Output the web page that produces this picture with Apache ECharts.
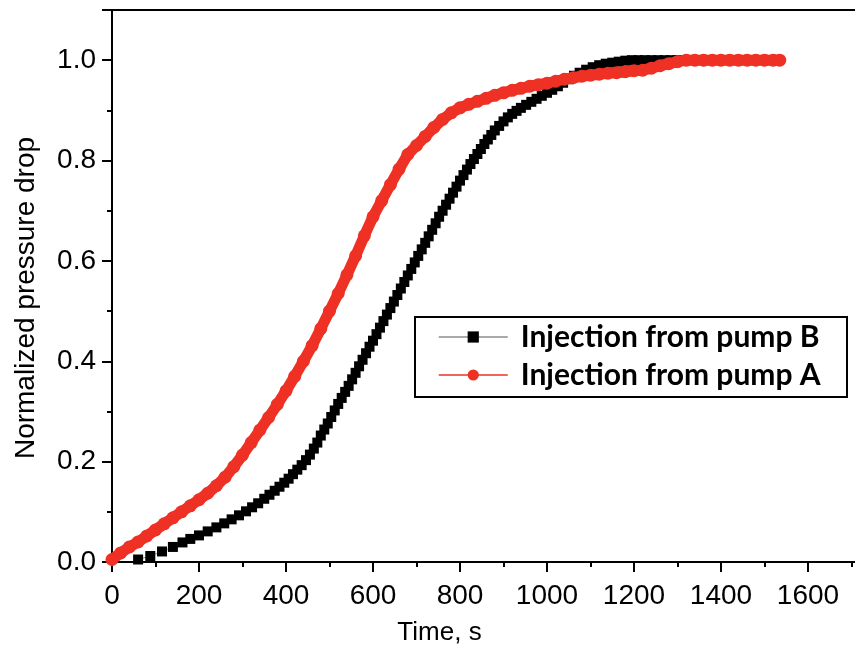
<!DOCTYPE html>
<html><head><meta charset="utf-8">
<script src="https://cdn.jsdelivr.net/npm/echarts@6/dist/echarts.min.js"></script>
<style>html,body{margin:0;padding:0;background:#fff}#c{width:855px;height:645px}</style>
</head><body><div id="c"></div>
<script>
// Injection from pump A (red circles)
const timeA = [0,20,40,60,80,100,120,140,160,180,200,220,240,260,280,300,320,340,360,380,400,420,440,460,480,500,520,540,560,580,600,620,640,660,680,700,720,740,760,780,800,820,840,860,880,900,920,940,960,980,1000,1020,1040,1060,1080,1100,1120,1140,1160,1180,1200,1220,1240,1260,1280,1300,1320,1340,1360,1380,1400,1420,1440,1460,1480,1500,1520,1535];
const dropA = [0.005,0.018,0.03,0.04,0.052,0.064,0.076,0.088,0.1,0.112,0.124,0.137,0.152,0.169,0.19,0.213,0.238,0.263,0.288,0.314,0.341,0.37,0.4,0.431,0.465,0.5,0.535,0.572,0.61,0.65,0.688,0.72,0.752,0.783,0.812,0.83,0.848,0.866,0.882,0.895,0.905,0.912,0.918,0.924,0.93,0.935,0.94,0.944,0.948,0.951,0.954,0.958,0.962,0.965,0.968,0.97,0.972,0.974,0.975,0.977,0.979,0.98,0.984,0.989,0.993,0.997,1.0,1.0,1.0,1.0,1.0,1.0,1.0,1.0,1.0,1.0,1.0,1.0];
// Injection from pump B (black squares)
const timeB = [60,88,115,140,162,180,200,220,240,258,275,292,308,322,336,350,362,374,385,396,406,416,426,436,446,455,464,472,480,488,496,504,512,520,528,536,544,552,560,568,576,584,592,600,608,616,624,632,640,648,656,664,672,680,688,696,704,712,720,728,736,744,752,760,768,776,784,792,800,808,816,824,832,840,848,856,864,872,880,890,900,910,920,930,940,952,964,976,988,1000,1012,1025,1037,1050,1062,1075,1090,1105,1120,1135,1150,1165,1180,1195,1210,1225,1240,1255,1270,1285,1300];
const dropB = [0.005,0.012,0.021,0.03,0.039,0.046,0.053,0.061,0.069,0.077,0.085,0.093,0.101,0.109,0.117,0.126,0.134,0.142,0.15,0.158,0.166,0.175,0.184,0.193,0.203,0.214,0.226,0.238,0.252,0.264,0.276,0.289,0.302,0.315,0.327,0.339,0.351,0.364,0.377,0.39,0.403,0.416,0.429,0.441,0.454,0.467,0.48,0.493,0.506,0.519,0.532,0.545,0.558,0.571,0.584,0.597,0.61,0.623,0.636,0.649,0.662,0.675,0.688,0.7,0.712,0.724,0.736,0.748,0.76,0.771,0.782,0.793,0.803,0.813,0.823,0.833,0.842,0.851,0.86,0.869,0.878,0.886,0.893,0.899,0.905,0.911,0.917,0.923,0.929,0.935,0.941,0.948,0.955,0.962,0.969,0.975,0.981,0.986,0.99,0.993,0.995,0.997,0.999,1.0,1.0,1.0,1.0,1.0,1.0,1.0,1.0];
const seriesNames = ['Injection from pump B', 'Injection from pump A'];
const xName = 'Time, s';
const yName = 'Normalized pressure drop';

const F = '"Liberation Sans", Arial, sans-serif';
const chart = echarts.init(document.getElementById('c'), null, {renderer: 'canvas'});
const axisLine = {show: true, onZero: false, lineStyle: {color: '#000', width: 2}};
chart.setOption({
  animation: false,
  grid: {left: 112, top: 10, width: 783, height: 552, containLabel: false, outerBoundsMode: 'none'},
  xAxis: [{
    type: 'value', min: 0, max: 1800, interval: 200, position: 'bottom',
    name: xName, nameLocation: 'middle', nameGap: 58,
    nameTextStyle: {fontFamily: F, fontSize: 26, color: '#000', padding: [0, 128, 0, 0]},
    axisLine: axisLine,
    axisTick: {show: true, inside: false, length: 10, lineStyle: {color: '#000', width: 2}},
    minorTick: {show: true, splitNumber: 2, length: 5, lineStyle: {color: '#000', width: 2}},
    axisLabel: {fontFamily: F, fontSize: 28, color: '#000', margin: 20, formatter: v => String(v)},
    splitLine: {show: false}, minorSplitLine: {show: false}
  }, {
    type: 'value', min: 0, max: 1800, position: 'top',
    axisLine: axisLine, axisTick: {show: false}, axisLabel: {show: false}, splitLine: {show: false}
  }],
  yAxis: {
    type: 'value', min: 0, max: 1.1, interval: 0.2,
    name: yName, nameLocation: 'middle', nameRotate: 90, nameGap: 72,
    nameTextStyle: {fontFamily: F, fontSize: 28, color: '#000', padding: [0, 24, 0, 0]},
    axisLine: axisLine,
    axisTick: {show: true, inside: false, length: 10, lineStyle: {color: '#000', width: 2}},
    minorTick: {show: true, splitNumber: 2, length: 5, lineStyle: {color: '#000', width: 2}},
    axisLabel: {fontFamily: F, fontSize: 28, color: '#000', margin: 16, showMaxLabel: false,
      formatter: v => v.toFixed(1)},
    splitLine: {show: false}
  },
  graphic: [{type: 'rect', z: 3, shape: {x: 415, y: 317, width: 432, height: 80},
    style: {fill: '#fff', stroke: '#000', lineWidth: 2}}],
  legend: {
    z: 5, left: 438, top: 321, orient: 'vertical', itemWidth: 69, itemHeight: 14, itemGap: 6, padding: 0,
    textStyle: {fontFamily: 'Lato', fontWeight: 'bold', fontSize: 30, color: '#000', lineHeight: 32, padding: [0, 0, 0, 8]},
    lineStyle: {width: 1.5},
    data: seriesNames
  },
  series: [{
    type: 'line', name: seriesNames[0],
    data: timeB.map((t, i) => [t, dropB[i]]),
    symbol: 'rect', symbolSize: 10, showAllSymbol: true,
    itemStyle: {color: '#000'}, lineStyle: {color: '#8c8c8c', width: 1},
    emphasis: {disabled: true}, z: 2
  }, {
    type: 'line', name: seriesNames[1],
    data: timeA.map((t, i) => [t, dropA[i]]),
    symbol: 'circle', symbolSize: 13, showAllSymbol: true,
    itemStyle: {color: '#ee3124'}, lineStyle: {color: '#ee3124', width: 11},
    emphasis: {disabled: true}, z: 3
  }]
});
</script></body></html>
